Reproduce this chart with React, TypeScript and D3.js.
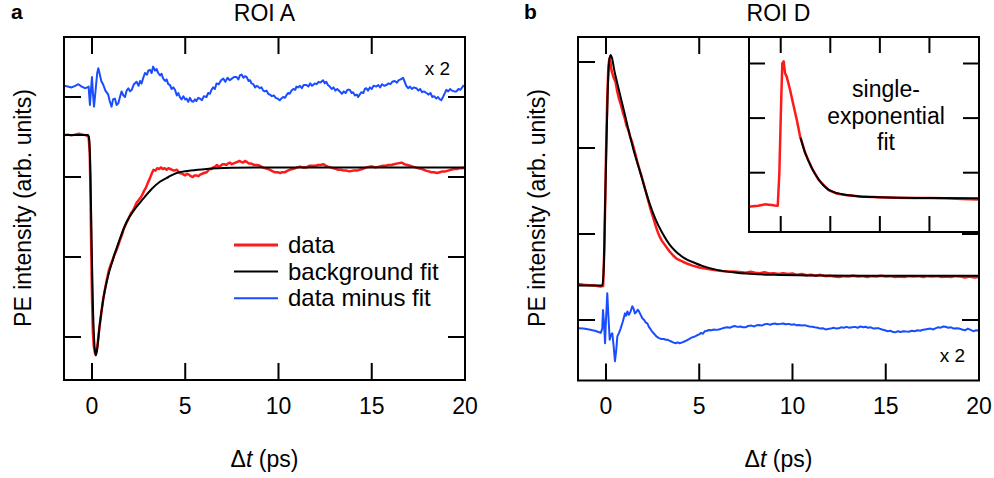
import React from 'react';
import * as d3 from 'd3';

type P = [number, number];

// ---------- data ----------
const X_TICK_VALUES = [0, 5, 10, 15, 20];
const X_TICK_LABELS = ['0', '5', '10', '15', '20'];
const Y_TICKS_A = [0, 1, 2, 3];
const Y_TICKS_B = [0, 1, 2, 3];
const INSET_X_TICKS = [0, 5, 10, 15];
const INSET_Y_TICKS = [1, 2, 3];

const TITLE_A = 'ROI A';
const TITLE_B = 'ROI D';
const Y_LABEL = 'PE intensity (arb. units)';
const LEGEND_LABELS = ['data', 'background fit', 'data minus fit'];
const INSET_TEXT = ['single-', 'exponential', 'fit'];

const dataA: P[] = [[-1.5,2.52],[-1.3,2.53],[-1.1,2.52],[-0.9,2.53],[-0.7,2.54],[-0.5,2.53],[-0.3,2.52],[-0.18,2.5],[-0.12,2.3],[-0.08,1.8],[-0.04,1.1],[0.0,0.5],[0.05,0.05],[0.1,-0.12],[0.16,-0.2],[0.2,-0.22],[0.25,-0.18],[0.32,-0.05],[0.4,0.12],[0.5,0.3],[0.6,0.47],[0.7,0.6],[0.8,0.72],[0.9,0.83],[1.0,0.9],[1.1,0.96],[1.2,1.03],[1.3,1.08],[1.4,1.14],[1.5,1.21],[1.6,1.27],[1.7,1.35],[1.8,1.4],[1.9,1.45],[2.0,1.5],[2.1,1.55],[2.2,1.58],[2.3,1.63],[2.4,1.68],[2.5,1.71],[2.6,1.74],[2.7,1.78],[2.8,1.83],[2.9,1.87],[3.0,1.93],[3.1,1.98],[3.2,2.04],[3.3,2.09],[3.4,2.08],[3.5,2.11],[3.6,2.1],[3.7,2.12],[3.8,2.1],[3.9,2.11],[4.0,2.09],[4.1,2.11],[4.2,2.1],[4.3,2.09],[4.4,2.08],[4.55,2.09],[4.7,2.05],[4.85,2.04],[5.0,2.02],[5.1,2.04],[5.2,2.03],[5.3,2.01],[5.4,2.0],[5.5,2.02],[5.6,2.02],[5.7,2.01],[5.8,2.03],[5.9,2.04],[6.0,2.05],[6.15,2.06],[6.3,2.1],[6.4,2.1],[6.5,2.12],[6.6,2.13],[6.7,2.15],[6.8,2.13],[6.9,2.14],[7.0,2.16],[7.1,2.16],[7.2,2.15],[7.3,2.17],[7.4,2.18],[7.5,2.16],[7.6,2.17],[7.7,2.18],[7.8,2.19],[7.9,2.2],[8.0,2.19],[8.1,2.18],[8.2,2.2],[8.3,2.19],[8.4,2.17],[8.5,2.17],[8.6,2.16],[8.7,2.15],[8.85,2.15],[9.0,2.14],[9.15,2.12],[9.3,2.11],[9.45,2.1],[9.55,2.09],[9.7,2.07],[9.8,2.06],[9.95,2.06],[10.1,2.05],[10.2,2.06],[10.35,2.06],[10.5,2.08],[10.6,2.09],[10.75,2.1],[10.9,2.11],[11.0,2.12],[11.15,2.13],[11.3,2.12],[11.5,2.12],[11.65,2.14],[11.85,2.14],[12.0,2.14],[12.1,2.15],[12.25,2.15],[12.4,2.16],[12.55,2.14],[12.65,2.13],[12.8,2.12],[12.95,2.11],[13.1,2.1],[13.2,2.09],[13.35,2.09],[13.5,2.08],[13.65,2.08],[13.8,2.07],[14.0,2.08],[14.2,2.08],[14.35,2.09],[14.5,2.1],[14.7,2.12],[14.9,2.13],[15.05,2.13],[15.2,2.12],[15.4,2.13],[15.6,2.14],[15.75,2.14],[15.9,2.15],[16.05,2.15],[16.2,2.16],[16.4,2.17],[16.6,2.18],[16.75,2.16],[16.9,2.15],[17.05,2.14],[17.2,2.13],[17.35,2.12],[17.5,2.11],[17.7,2.1],[17.9,2.08],[18.05,2.07],[18.2,2.06],[18.35,2.06],[18.5,2.05],[18.65,2.06],[18.8,2.07],[18.95,2.07],[19.1,2.08],[19.25,2.09],[19.4,2.1],[19.55,2.1],[19.7,2.11],[19.85,2.11],[20,2.12]];

const fitA: P[] = [[-1.5,2.525],[-0.2,2.525],[-0.14,2.45],[-0.08,2.0],[-0.02,1.2],[0.05,0.4],[0.12,-0.05],[0.2,-0.23],[0.28,-0.15],[0.4,0.12],[0.61,0.48],[0.85,0.75],[1.14,0.98],[1.5,1.23],[1.86,1.44],[2.3,1.6],[2.75,1.73],[3.2,1.85],[3.64,1.94],[4.1,2.0],[4.54,2.05],[5.3,2.08],[6.14,2.1],[7.5,2.115],[9,2.12],[20,2.12]];

const residA: P[] = [[-1.5,3.14],[-1.3,3.13],[-1.09,3.12],[-0.9,3.14],[-0.73,3.16],[-0.55,3.13],[-0.375,3.11],[-0.25,3.12],[-0.18,3.13],[-0.11,2.9],[-0.05,3.1],[0,3.25],[0.05,3.05],[0.11,2.88],[0.2,3.1],[0.28,3.3],[0.34,3.36],[0.42,3.28],[0.5,3.2],[0.61,3.15],[0.72,3.08],[0.87,3.03],[0.95,2.95],[1.05,2.88],[1.13,2.97],[1.23,2.98],[1.32,2.9],[1.41,2.92],[1.5,3.0],[1.59,3.07],[1.68,3.02],[1.77,3.0],[1.86,3.08],[1.95,3.11],[2.04,3.07],[2.13,3.09],[2.25,3.16],[2.39,3.19],[2.5,3.14],[2.58,3.2],[2.66,3.17],[2.75,3.24],[2.84,3.3],[2.95,3.28],[3.02,3.33],[3.11,3.34],[3.2,3.3],[3.28,3.38],[3.38,3.33],[3.46,3.35],[3.55,3.3],[3.65,3.27],[3.73,3.29],[3.82,3.23],[3.92,3.2],[4.0,3.22],[4.09,3.16],[4.18,3.15],[4.27,3.1],[4.36,3.12],[4.45,3.09],[4.55,3.02],[4.63,3.05],[4.71,3.0],[4.8,2.97],[4.9,3.01],[5.0,2.97],[5.07,2.98],[5.16,2.94],[5.25,2.99],[5.34,2.95],[5.43,2.94],[5.52,2.97],[5.6,2.95],[5.7,2.99],[5.79,2.98],[5.9,2.96],[6.0,3.01],[6.14,3.0],[6.23,3.05],[6.32,3.04],[6.41,3.09],[6.5,3.12],[6.59,3.1],[6.68,3.17],[6.8,3.16],[6.92,3.21],[7.04,3.23],[7.15,3.19],[7.27,3.24],[7.39,3.21],[7.5,3.23],[7.62,3.25],[7.75,3.25],[7.85,3.22],[7.93,3.27],[8.02,3.28],[8.12,3.24],[8.2,3.26],[8.29,3.25],[8.4,3.2],[8.48,3.21],[8.55,3.17],[8.65,3.16],[8.75,3.12],[8.82,3.14],[8.91,3.13],[9.0,3.11],[9.09,3.12],[9.18,3.08],[9.27,3.07],[9.36,3.08],[9.45,3.04],[9.54,3.03],[9.65,3.01],[9.75,3.02],[9.85,2.99],[9.95,2.98],[10.07,2.96],[10.15,2.98],[10.25,3.0],[10.35,2.99],[10.45,3.03],[10.52,3.05],[10.6,3.04],[10.7,3.08],[10.8,3.1],[10.9,3.09],[10.96,3.13],[11.05,3.12],[11.15,3.14],[11.25,3.11],[11.35,3.15],[11.5,3.15],[11.6,3.13],[11.7,3.17],[11.8,3.14],[11.95,3.17],[12.05,3.16],[12.15,3.19],[12.25,3.18],[12.39,3.21],[12.48,3.17],[12.56,3.19],[12.65,3.15],[12.75,3.13],[12.85,3.1],[12.95,3.12],[13.05,3.08],[13.15,3.1],[13.29,3.07],[13.4,3.04],[13.5,3.07],[13.6,3.05],[13.7,3.09],[13.82,3.09],[13.92,3.05],[14.0,3.06],[14.1,3.02],[14.2,3.03],[14.27,3.0],[14.35,3.03],[14.45,3.06],[14.55,3.05],[14.63,3.1],[14.71,3.11],[14.8,3.08],[14.9,3.12],[15.0,3.1],[15.1,3.14],[15.25,3.13],[15.35,3.15],[15.45,3.12],[15.55,3.16],[15.67,3.14],[15.79,3.15],[15.9,3.17],[16.0,3.16],[16.1,3.19],[16.23,3.2],[16.35,3.18],[16.45,3.21],[16.55,3.22],[16.68,3.24],[16.75,3.2],[16.85,3.14],[16.95,3.11],[17.05,3.13],[17.15,3.1],[17.25,3.12],[17.39,3.11],[17.5,3.08],[17.6,3.1],[17.7,3.06],[17.8,3.07],[17.93,3.05],[18.05,3.03],[18.15,3.05],[18.25,3.0],[18.35,3.01],[18.46,2.98],[18.55,3.0],[18.65,2.97],[18.73,2.96],[18.82,3.0],[18.9,3.04],[19.0,3.09],[19.1,3.07],[19.2,3.1],[19.3,3.08],[19.42,3.07],[19.54,3.07],[19.65,3.1],[19.75,3.09],[19.85,3.12],[19.93,3.15]];

const dataB: P[] = [[-1.5,0.42],[-1.2,0.41],[-0.9,0.405],[-0.6,0.40],[-0.3,0.39],[-0.15,0.395],[-0.08,0.9],[0.0,1.9],[0.07,2.6],[0.13,2.95],[0.18,3.04],[0.24,3.0],[0.3,2.9],[0.38,2.84],[0.45,2.8],[0.52,2.76],[0.6,2.66],[0.7,2.57],[0.8,2.5],[0.9,2.42],[1.0,2.35],[1.1,2.26],[1.2,2.21],[1.3,2.13],[1.4,2.07],[1.5,1.99],[1.6,1.91],[1.7,1.82],[1.8,1.75],[1.9,1.68],[2.0,1.6],[2.1,1.52],[2.2,1.44],[2.3,1.36],[2.4,1.28],[2.5,1.21],[2.6,1.14],[2.7,1.07],[2.8,1.01],[2.9,0.96],[3.0,0.92],[3.2,0.86],[3.4,0.8],[3.6,0.75],[3.8,0.71],[4.0,0.69],[4.3,0.66],[4.6,0.635],[5.0,0.61],[5.4,0.595],[5.8,0.58],[6.2,0.57],[6.6,0.565],[7.0,0.56],[7.25,0.555],[7.5,0.55],[7.75,0.56],[8.0,0.55],[8.25,0.545],[8.5,0.555],[8.75,0.54],[9.0,0.545],[9.25,0.535],[9.5,0.545],[9.75,0.535],[10,0.54],[10.25,0.525],[10.5,0.535],[10.75,0.52],[11,0.525],[11.25,0.515],[11.5,0.525],[11.75,0.51],[12,0.515],[12.25,0.505],[12.5,0.50],[12.75,0.51],[13,0.505],[13.25,0.515],[13.5,0.505],[13.75,0.51],[14,0.50],[14.25,0.51],[14.5,0.505],[14.75,0.515],[15,0.505],[15.25,0.51],[15.5,0.50],[15.75,0.505],[16,0.50],[16.25,0.51],[16.5,0.505],[16.75,0.51],[17,0.50],[17.25,0.51],[17.5,0.505],[17.75,0.51],[18,0.50],[18.25,0.505],[18.5,0.50],[18.75,0.51],[19,0.505],[19.25,0.495],[19.5,0.505],[19.75,0.495],[20,0.50]];

const fitB: P[] = [[-1.5,0.40],[-0.2,0.40],[-0.12,0.6],[-0.05,1.3],[0.02,2.0],[0.1,2.7],[0.18,3.02],[0.25,3.08],[0.32,3.05],[0.45,2.9],[0.6,2.76],[0.8,2.58],[1.0,2.4],[1.23,2.19],[1.5,1.96],[1.75,1.78],[1.95,1.63],[2.3,1.38],[2.66,1.17],[3.0,1.02],[3.4,0.88],[3.73,0.8],[4.2,0.72],[4.8,0.66],[5.16,0.63],[6,0.58],[7,0.55],[7.5,0.54],[9,0.525],[11,0.518],[14,0.515],[20,0.515]];

const residB: P[] = [[-1.5,-0.095],[-1.2,-0.1],[-0.9,-0.11],[-0.6,-0.125],[-0.4,-0.14],[-0.28,-0.15],[-0.2,-0.1],[-0.16,0.116],[-0.1,-0.05],[-0.05,-0.27],[0.0,0.0],[0.07,0.31],[0.13,0.05],[0.2,-0.23],[0.27,-0.17],[0.34,-0.155],[0.41,-0.3],[0.48,-0.48],[0.55,-0.35],[0.61,-0.19],[0.7,-0.15],[0.79,-0.097],[0.9,-0.02],[1.02,0.077],[1.08,0.05],[1.15,0.1],[1.23,0.06],[1.32,0.1],[1.41,0.16],[1.48,0.13],[1.55,0.077],[1.62,0.09],[1.7,0.12],[1.77,0.1],[1.86,0.06],[1.95,0.02],[2.05,0.0],[2.13,-0.03],[2.22,-0.04],[2.3,-0.08],[2.4,-0.11],[2.48,-0.136],[2.58,-0.16],[2.7,-0.19],[2.84,-0.21],[2.95,-0.22],[3.1,-0.22],[3.2,-0.23],[3.29,-0.23],[3.4,-0.24],[3.5,-0.25],[3.6,-0.26],[3.73,-0.27],[3.85,-0.26],[3.95,-0.27],[4.09,-0.26],[4.2,-0.25],[4.3,-0.24],[4.4,-0.23],[4.54,-0.21],[4.65,-0.2],[4.78,-0.19],[4.9,-0.175],[4.98,-0.17],[5.1,-0.15],[5.2,-0.16],[5.3,-0.13],[5.42,-0.125],[5.52,-0.116],[5.65,-0.12],[5.8,-0.11],[5.92,-0.115],[6.05,-0.11],[6.2,-0.1],[6.35,-0.09],[6.5,-0.085],[6.65,-0.09],[6.77,-0.078],[6.9,-0.07],[7.05,-0.08],[7.2,-0.075],[7.35,-0.085],[7.48,-0.085],[7.62,-0.07],[7.8,-0.065],[7.95,-0.075],[8.1,-0.06],[8.2,-0.058],[8.35,-0.065],[8.5,-0.05],[8.65,-0.045],[8.8,-0.055],[8.91,-0.047],[9.05,-0.04],[9.2,-0.05],[9.35,-0.045],[9.5,-0.04],[9.63,-0.05],[9.8,-0.045],[9.95,-0.055],[10.1,-0.05],[10.2,-0.06],[10.34,-0.058],[10.5,-0.065],[10.65,-0.06],[10.8,-0.07],[10.92,-0.075],[11.05,-0.078],[11.2,-0.085],[11.35,-0.09],[11.5,-0.1],[11.62,-0.095],[11.77,-0.11],[11.9,-0.105],[12.05,-0.1],[12.2,-0.09],[12.35,-0.1],[12.48,-0.097],[12.6,-0.085],[12.75,-0.09],[12.9,-0.08],[13.05,-0.09],[13.2,-0.085],[13.35,-0.08],[13.5,-0.09],[13.65,-0.075],[13.8,-0.085],[13.91,-0.078],[14.05,-0.09],[14.2,-0.085],[14.35,-0.1],[14.5,-0.095],[14.63,-0.097],[14.8,-0.11],[14.95,-0.12],[15.1,-0.13],[15.25,-0.125],[15.4,-0.14],[15.52,-0.143],[15.65,-0.13],[15.8,-0.14],[15.95,-0.13],[16.1,-0.135],[16.23,-0.136],[16.4,-0.125],[16.55,-0.13],[16.7,-0.12],[16.85,-0.125],[16.95,-0.116],[17.1,-0.11],[17.25,-0.105],[17.4,-0.1],[17.55,-0.11],[17.66,-0.097],[17.8,-0.085],[17.95,-0.09],[18.08,-0.075],[18.2,-0.078],[18.35,-0.09],[18.5,-0.085],[18.65,-0.1],[18.8,-0.095],[18.95,-0.1],[19.09,-0.11],[19.25,-0.12],[19.4,-0.1],[19.55,-0.115],[19.7,-0.13],[19.85,-0.12],[20,-0.125]];

const insetData: P[] = [[-3.22,0.376],[-2.8,0.385],[-2.27,0.395],[-1.9,0.41],[-1.59,0.42],[-1.2,0.415],[-0.91,0.41],[-0.6,0.40],[-0.3,0.395],[-0.14,0.99],[0.03,2.21],[0.16,3.0],[0.3,3.04],[0.44,2.82],[0.6,2.76],[0.94,2.52],[1.28,2.24],[1.62,1.97],[1.96,1.66],[2.47,1.36],[3.15,1.08],[3.82,0.87],[4.83,0.68],[5.6,0.62],[6.53,0.59],[8,0.565],[9.9,0.55],[11.5,0.54],[13.3,0.535],[15,0.535],[16.7,0.53],[18.3,0.52],[19.9,0.51]];

const insetFit: P[] = [[2.0,1.64],[2.47,1.36],[3.15,1.08],[3.82,0.88],[4.3,0.77],[4.83,0.69],[5.6,0.63],[6.53,0.595],[8,0.565],[9.9,0.55],[12,0.54],[15,0.535],[20,0.533]];

// ---------- styling ----------
const FONT = '"Liberation Sans", Arial, Helvetica, sans-serif';
const RED = '#ff1a1a';
const BLUE = '#1a4dff';
const FS = 23;
const TICK = 17;

const xA = d3.scaleLinear().domain([-1.5, 20]).range([64, 465]);
const yA = d3.scaleLinear().domain([0, 3]).range([337, 97]);
const xB = d3.scaleLinear().domain([-1.5, 20]).range([578, 979]);
const yB = d3.scaleLinear().domain([0, 3]).range([320, 62]);
const xI = d3.scaleLinear().domain([-3.2, 20]).range([749, 979]);
const yI = d3.scaleLinear().domain([1, 3]).range([172.7, 63.5]);

function mkLine(x: d3.ScaleLinear<number, number>, y: d3.ScaleLinear<number, number>, smooth = false) {
  const l = d3.line<P>().x((d) => x(d[0])).y((d) => y(d[1]));
  return smooth ? l.curve(d3.curveMonotoneX) : l;
}

function Frame({ x0, x1, y0, y1, xt, yt, tl }: { x0: number; x1: number; y0: number; y1: number; xt: number[]; yt: number[]; tl: number }) {
  return (
    <g>
      {xt.map((v, i) => (
        <g key={'x' + i}>
          <line x1={v} x2={v} y1={y1} y2={y1 - tl} stroke="#000" strokeWidth={2} />
          <line x1={v} x2={v} y1={y0} y2={y0 + tl} stroke="#000" strokeWidth={2} />
        </g>
      ))}
      {yt.map((v, i) => (
        <g key={'y' + i}>
          <line x1={x0} x2={x0 + tl} y1={v} y2={v} stroke="#000" strokeWidth={2} />
          <line x1={x1} x2={x1 - tl} y1={v} y2={v} stroke="#000" strokeWidth={2} />
        </g>
      ))}
    </g>
  );
}

function XLabels({ x, cx }: { x: d3.ScaleLinear<number, number>; cx: number }) {
  return (
    <g fontFamily={FONT} fontSize={FS} fill="#000">
      {X_TICK_VALUES.map((v, i) => (
        <text key={i} x={x(v)} y={414} textAnchor="middle">{X_TICK_LABELS[i]}</text>
      ))}
      <text x={cx} y={467} textAnchor="middle">
        Δ<tspan fontStyle="italic">t</tspan> (ps)
      </text>
    </g>
  );
}

export default function App() {
  const la = mkLine(xA, yA);
  const lfa = mkLine(xA, yA, true);
  const lb = mkLine(xB, yB);
  const lfb = mkLine(xB, yB, true);
  const li = mkLine(xI, yI);
  const lfi = mkLine(xI, yI, true);

  const aX0 = 64, aX1 = 465, aY0 = 37, aY1 = 380;
  const bX0 = 578, bX1 = 979, bY0 = 37, bY1 = 380.5;
  const iX0 = 749, iX1 = 979, iY0 = 37, iY1 = 232;

  return (
    <svg width={994} height={478} style={{ position: 'absolute', left: 0, top: 0, background: '#fff' }}>
      <defs>
        <clipPath id="clipA"><rect x={aX0} y={aY0} width={aX1 - aX0} height={aY1 - aY0} /></clipPath>
        <clipPath id="clipB"><rect x={bX0} y={bY0} width={bX1 - bX0} height={bY1 - bY0} /></clipPath>
        <clipPath id="clipI"><rect x={iX0} y={iY0} width={iX1 - iX0} height={iY1 - iY0} /></clipPath>
      </defs>

      {/* ---------- Panel a ---------- */}
      <text x={11} y={19} fontFamily={FONT} fontSize={21} fontWeight="bold">a</text>
      <text x={(aX0 + aX1) / 2} y={21} fontFamily={FONT} fontSize={FS} textAnchor="middle">{TITLE_A}</text>
      <text transform={`translate(31,${208}) rotate(-90)`} fontFamily={FONT} fontSize={FS} textAnchor="middle">{Y_LABEL}</text>
      <g clipPath="url(#clipA)" fill="none" strokeLinejoin="round">
        <path d={la(residA) || ''} stroke={BLUE} strokeWidth={2} />
        <path d={la(dataA) || ''} stroke={RED} strokeWidth={2.5} />
        <path d={lfa(fitA) || ''} stroke="#000" strokeWidth={2} />
      </g>
      <Frame x0={aX0} x1={aX1} y0={aY0} y1={aY1} xt={X_TICK_VALUES.slice(0, 4).map((v) => xA(v))} yt={Y_TICKS_A.map((v) => yA(v))} tl={TICK} />
      <rect x={aX0} y={aY0} width={aX1 - aX0} height={aY1 - aY0} fill="none" stroke="#000" strokeWidth={2} />
      <text x={450} y={75} fontFamily={FONT} fontSize={19} textAnchor="end">x 2</text>
      <g fontFamily={FONT} fontSize={24}>
        {LEGEND_LABELS.map((lab, i) => {
          const y = 245 + i * 26.6;
          const col = [RED, '#000', BLUE][i];
          return (
            <g key={i}>
              <line x1={234} x2={278} y1={y} y2={y} stroke={col} strokeWidth={i === 0 ? 3 : 2} />
              <text x={288} y={y + 8}>{lab}</text>
            </g>
          );
        })}
      </g>
      <XLabels x={xA} cx={(aX0 + aX1) / 2} />

      {/* ---------- Panel b ---------- */}
      <text x={524} y={19} fontFamily={FONT} fontSize={21} fontWeight="bold">b</text>
      <text x={(bX0 + bX1) / 2} y={21} fontFamily={FONT} fontSize={FS} textAnchor="middle">{TITLE_B}</text>
      <text transform={`translate(545,${208}) rotate(-90)`} fontFamily={FONT} fontSize={FS} textAnchor="middle">{Y_LABEL}</text>
      <g clipPath="url(#clipB)" fill="none" strokeLinejoin="round">
        <path d={lb(residB) || ''} stroke={BLUE} strokeWidth={2} />
        <path d={lb(dataB) || ''} stroke={RED} strokeWidth={2.5} />
        <path d={lfb(fitB) || ''} stroke="#000" strokeWidth={2} />
      </g>
      <Frame x0={bX0} x1={bX1} y0={bY0} y1={bY1} xt={X_TICK_VALUES.slice(0, 4).map((v) => xB(v))} yt={Y_TICKS_B.map((v) => yB(v))} tl={TICK} />
      <rect x={bX0} y={bY0} width={bX1 - bX0} height={bY1 - bY0} fill="none" stroke="#000" strokeWidth={2} />
      <text x={965} y={362} fontFamily={FONT} fontSize={19} textAnchor="end">x 2</text>
      <XLabels x={xB} cx={(bX0 + bX1) / 2} />

      {/* ---------- Inset ---------- */}
      <rect x={iX0} y={iY0} width={iX1 - iX0} height={iY1 - iY0} fill="#fff" />
      <g clipPath="url(#clipI)" fill="none" strokeLinejoin="round">
        <path d={li(insetData) || ''} stroke={RED} strokeWidth={2.5} />
        <path d={lfi(insetFit) || ''} stroke="#000" strokeWidth={2} />
      </g>
      <Frame x0={iX0} x1={iX1} y0={iY0} y1={iY1} xt={INSET_X_TICKS.map((v) => xI(v))} yt={INSET_Y_TICKS.map((v) => yI(v))} tl={16} />
      <rect x={iX0} y={iY0} width={iX1 - iX0} height={iY1 - iY0} fill="none" stroke="#000" strokeWidth={2} />
      <g fontFamily={FONT} fontSize={FS} textAnchor="middle">
        {INSET_TEXT.map((t, i) => (
          <text key={i} x={886} y={97 + i * 26.5}>{t}</text>
        ))}
      </g>
    </svg>
  );
}
